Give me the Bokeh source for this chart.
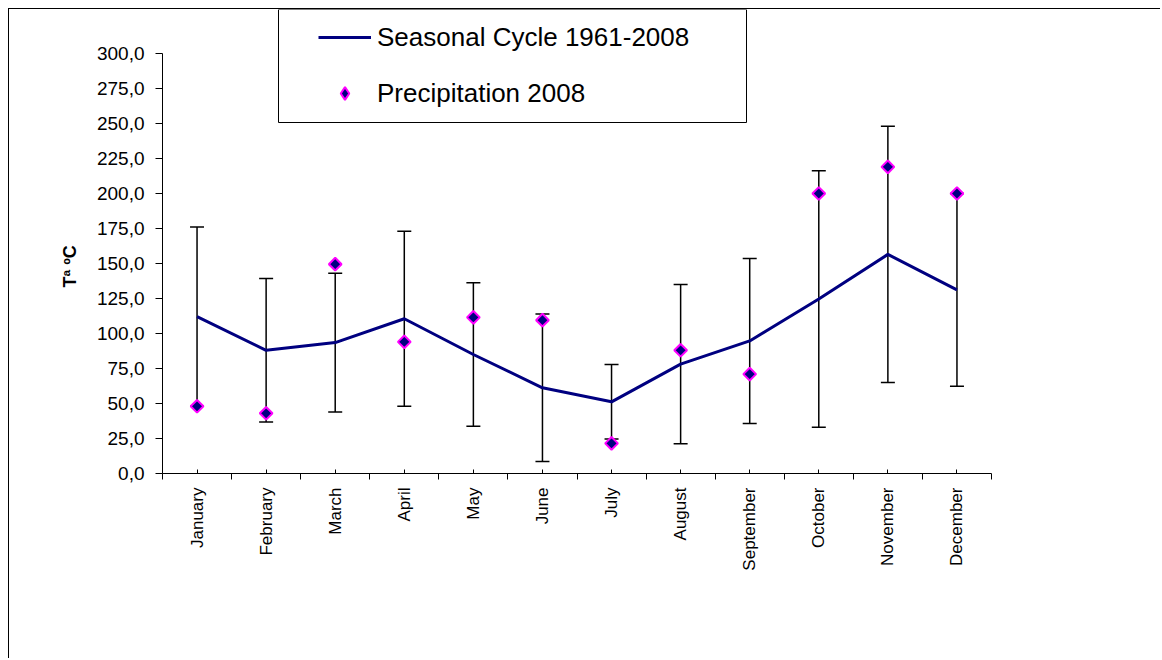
import math
from bokeh.plotting import figure
from bokeh.models import (Range1d, FixedTicker, Whisker, TeeHead, ColumnDataSource,
                          Legend, LegendItem, BoxAnnotation, Title)
from bokeh.embed import file_html
from bokeh.resources import INLINE

# ---- data ----
months = ["January", "February", "March", "April", "May", "June", "July",
          "August", "September", "October", "November", "December"]
seasonal_mean = [112.0, 88.0, 93.5, 110.5, 85.0, 61.2, 51.2, 78.1, 94.7, 124.6, 156.5, 131.2]
seasonal_std = [64.0, 51.2, 49.6, 62.5, 51.2, 52.7, 26.6, 56.8, 58.9, 91.6, 91.5, 68.8]
precip_2008 = [48.0, 43.0, 149.5, 94.0, 111.5, 109.5, 21.5, 88.0, 71.0, 200.0, 219.0, 200.0]
y_ticks = [0, 25, 50, 75, 100, 125, 150, 175, 200, 225, 250, 275, 300]
y_tick_labels = ["0,0", "25,0", "50,0", "75,0", "100,0", "125,0", "150,0", "175,0",
                 "200,0", "225,0", "250,0", "275,0", "300,0"]
y_axis_max = 300
y_view_max = 331.4   # headroom above the axis where the legend sits

FONT = "Liberation Sans"

xpos = [i + 0.5 for i in range(len(months))]
bounds = [i for i in range(len(months) + 1)]
src = ColumnDataSource(dict(
    x=xpos,
    mean=seasonal_mean,
    upper=[m + s for m, s in zip(seasonal_mean, seasonal_std)],
    lower=[m - s for m, s in zip(seasonal_mean, seasonal_std)],
    precip=precip_2008,
))

W, H = 1152, 650
p = figure(width=W, height=H, output_backend="svg", toolbar_location=None,
           x_range=Range1d(0, len(months)), y_range=Range1d(0, y_view_max),
           min_border_left=153, min_border_right=170, min_border_top=0,
           min_border_bottom=186)
p.styles = {"margin-left": "8px", "margin-top": "8px",
            "border-left": "1px solid #000000", "border-top": "1px solid #000000"}
p.outline_line_color = None
p.xgrid.visible = False
p.ygrid.visible = False
p.background_fill_color = "white"
p.border_fill_color = "white"

# x axis
xa = p.xaxis[0]
xa.ticker = FixedTicker(ticks=xpos, minor_ticks=bounds)
xa.major_label_overrides = {x: m for x, m in zip(xpos, months)}
xa.major_label_orientation = math.pi / 2
xa.major_tick_in = 4
xa.major_tick_out = 0
xa.minor_tick_in = 0
xa.minor_tick_out = 6
xa.major_tick_line_color = "black"
xa.minor_tick_line_color = "black"
xa.axis_line_color = "black"
xa.major_label_text_font = FONT
xa.major_label_text_font_size = "17px"
xa.major_label_text_color = "black"
xa.major_label_standoff = 8

# y axis
ya = p.yaxis[0]
ya.bounds = (0, y_axis_max)
ya.ticker = FixedTicker(ticks=y_ticks, minor_ticks=[])
ya.major_label_overrides = {t: l for t, l in zip(y_ticks, y_tick_labels)}
ya.major_tick_in = 0
ya.major_tick_out = 7
ya.minor_tick_in = 0
ya.minor_tick_out = 0
ya.major_tick_line_color = "black"
ya.axis_line_color = "black"
ya.major_label_text_font = FONT
ya.major_label_text_font_size = "19px"
ya.major_label_text_color = "black"
ya.major_label_standoff = 11

# y axis title, aligned with the middle of the 0-300 axis
ytitle = Title(text="Tª ºC", align="left", offset=186, standoff=28,
               text_font=FONT, text_font_size="18px", text_font_style="bold",
               text_color="black")
p.add_layout(ytitle, "left")

# error bars
whisk = Whisker(source=src, base="x", upper="upper", lower="lower",
                line_color="black", line_width=1.5, level="underlay",
                upper_head=TeeHead(size=14, line_color="black", line_width=1.5),
                lower_head=TeeHead(size=14, line_color="black", line_width=1.5))
p.add_layout(whisk)

line_r = p.line("x", "mean", source=src, line_color="#000080", line_width=3)
sc_r = p.scatter("x", "precip", source=src, marker="square", angle=math.pi / 4,
                 size=9, fill_color="#000080", line_color="#FF00FF", line_width=2)
# legend swatch for the precipitation markers (legend glyphs are never rotated)
sc_legend = p.scatter("x", "precip", source=src, marker="diamond",
                      fill_color="#000080", line_color="#FF00FF", line_width=2)
sc_legend.visible = False

# legend frame box
box = BoxAnnotation(left=268, right=736, top=-1, bottom=112,
                    left_units="canvas", right_units="canvas",
                    top_units="canvas", bottom_units="canvas",
                    fill_color="white", fill_alpha=1.0,
                    line_color="black", line_width=1, line_alpha=1.0)
p.add_layout(box)

legend = Legend(items=[LegendItem(label="Seasonal Cycle 1961-2008", renderers=[line_r]),
                       LegendItem(label="Precipitation 2008", renderers=[sc_legend])],
                location=(156, 360), orientation="vertical",
                padding=8, spacing=16, margin=0,
                glyph_width=53, glyph_height=32, label_height=40,
                label_standoff=6,
                label_text_font=FONT, label_text_font_size="26px",
                label_text_color="black",
                inactive_fill_alpha=0,
                border_line_color=None, background_fill_alpha=0)
p.add_layout(legend)

open("out.html", "w").write(file_html(p, INLINE))
